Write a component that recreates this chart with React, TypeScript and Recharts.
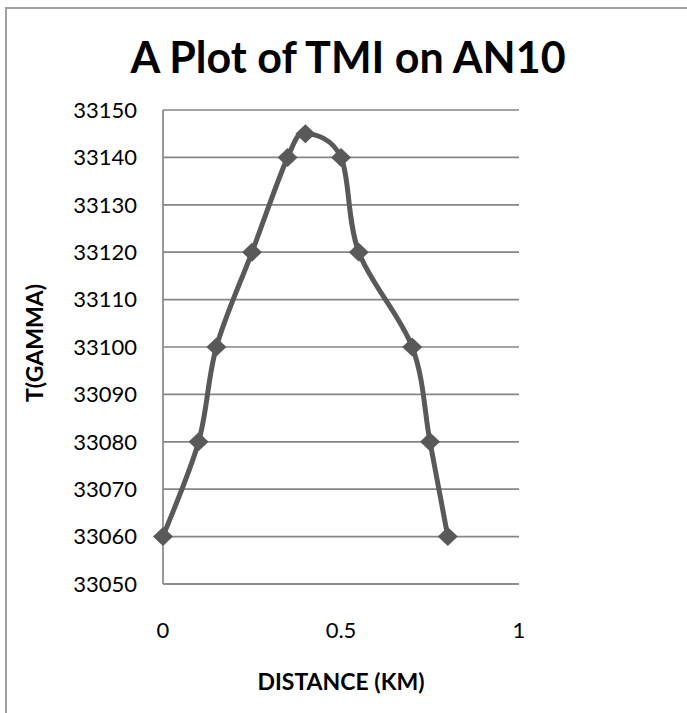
import { LineChart, Line, XAxis, YAxis, CartesianGrid } from 'recharts';

const distance = [0, 0.1, 0.15, 0.25, 0.35, 0.4, 0.5, 0.55, 0.7, 0.75, 0.8];
const tmi = [33060, 33080, 33100, 33120, 33140, 33145, 33140, 33120, 33100, 33080, 33060];
const yTicks = [33050, 33060, 33070, 33080, 33090, 33100, 33110, 33120, 33130, 33140, 33150];
const xTicks = [0, 0.5, 1];

const data = distance.map((d, i) => ({ d, t: tmi[i] }));

const FONT = 'Lato, "Open Sans", sans-serif';
const GRAY = '#595959';
const AXIS = '#868686';

// smooth line like the spreadsheet one (catmull-rom through the points)
const smooth = (ctx: any) => {
  let pts: number[][] = [];
  return {
    areaStart() {},
    areaEnd() {},
    lineStart() { pts = []; },
    point(x: number, y: number) { pts.push([+x, +y]); },
    lineEnd() {
      if (!pts.length) return;
      ctx.moveTo(pts[0][0], pts[0][1]);
      for (let i = 0; i < pts.length - 1; i++) {
        const p0 = pts[i - 1] || pts[i];
        const p1 = pts[i];
        const p2 = pts[i + 1];
        const p3 = pts[i + 2] || p2;
        ctx.bezierCurveTo(
          p1[0] + (p2[0] - p0[0]) / 6, p1[1] + (p2[1] - p0[1]) / 6,
          p2[0] - (p3[0] - p1[0]) / 6, p2[1] - (p3[1] - p1[1]) / 6,
          p2[0], p2[1]
        );
      }
    },
  };
};

const Diamond = (props: any) => {
  const { cx, cy } = props;
  if (cx == null || cy == null) return null;
  const rx = 10;
  const ry = 9.5;
  return <polygon points={`${cx},${cy - ry} ${cx + rx},${cy} ${cx},${cy + ry} ${cx - rx},${cy}`} fill={GRAY} />;
};

export default function App() {
  return (
    <div style={{ position: 'absolute', left: 0, top: 0, width: 687, height: 713, background: '#fff', overflow: 'hidden', fontFamily: FONT }}>
      <div style={{ position: 'absolute', left: 5, top: 7, width: 720, height: 760, border: '2px solid #a0a0a0', boxSizing: 'border-box' }} />
      <div style={{ position: 'absolute', left: 0, top: 0 }}>
        <LineChart width={687} height={713} data={data} margin={{ top: 110, right: 168, bottom: 69, left: 0 }}>
          <CartesianGrid vertical={false} stroke={AXIS} strokeWidth={1.7} />
          <XAxis
            dataKey="d"
            type="number"
            domain={[0, 1]}
            ticks={xTicks}
            height={60}
            axisLine={{ stroke: AXIS, strokeWidth: 1.7 }}
            tickLine={false}
            tickSize={0}
            tickMargin={38}
            tick={{ fill: '#000', fontSize: 22, fontFamily: FONT }}
          />
          <YAxis
            type="number"
            domain={[33050, 33150]}
            ticks={yTicks}
            width={163}
            axisLine={{ stroke: AXIS, strokeWidth: 1.7 }}
            tickLine={false}
            tickSize={0}
            tickMargin={26}
            tick={{ fill: '#000', fontSize: 22, fontFamily: FONT }}
          />
          <Line
            dataKey="t"
            type={smooth as any}
            stroke={GRAY}
            strokeWidth={5}
            dot={<Diamond />}
            activeDot={false}
            isAnimationActive={false}
          />
        </LineChart>
      </div>
      <svg width={687} height={713} style={{ position: 'absolute', left: 0, top: 0, pointerEvents: 'none' }}>
        <text x={348} y={73} textAnchor="middle" fontSize={43} fontWeight={700} fontFamily={FONT} fill="#000">
          A Plot of TMI on AN10
        </text>
        <text x={341} y={690} textAnchor="middle" fontSize={23} fontWeight={700} fontFamily={FONT} fill="#000">
          DISTANCE (KM)
        </text>
        <text x={43} y={343} textAnchor="middle" fontSize={23} fontWeight={700} fontFamily={FONT} fill="#000" transform="rotate(-90 43 343)">
          T(GAMMA)
        </text>
      </svg>
    </div>
  );
}
